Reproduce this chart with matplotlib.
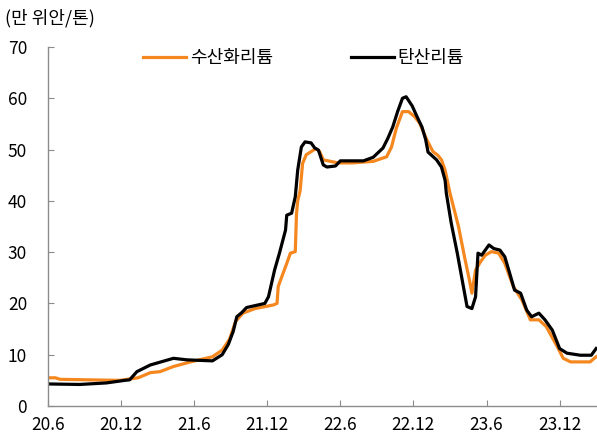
import matplotlib
matplotlib.use("Agg")
import matplotlib.pyplot as plt

plt.rcParams['font.family'] = ['Noto Sans CJK KR', 'DejaVu Sans']

# months since 2020.6
tick_pos = [0, 6, 12, 18, 24, 30, 36, 42]
tick_labels = ["20.6", "20.12", "21.6", "21.12", "22.6", "22.12", "23.6", "23.12"]

# 수산화리튬 (lithium hydroxide)
hyd_m = [0, 0.6, 1.0, 3.4, 5.9, 7.4, 8.4, 9.2, 10.3, 11.7, 13.5, 14.3, 14.9, 15.4,
         16.0, 17.0, 18.5, 18.8, 18.9, 19.1, 19.6, 19.9, 20.3, 20.4, 20.5, 20.7,
         20.9, 21.2, 21.6, 22.0, 22.3, 22.6, 23.4, 23.8, 25.0, 26.7, 27.8, 28.2,
         28.6, 29.1, 29.6, 30.1, 30.5, 31.1, 31.6, 32.0, 32.3, 32.6, 33.0, 33.7,
         34.2, 34.6, 34.8, 35.1, 35.5, 35.9, 36.4, 37.0, 37.5, 38.2, 38.9, 39.6,
         40.3, 40.9, 41.8, 42.3, 42.9, 44.5, 45.0]
hyd_v = [5.5, 5.5, 5.2, 5.1, 5.0, 5.5, 6.5, 6.7, 7.7, 8.6, 9.6, 10.9, 13.0, 16.5,
         18.1, 19.0, 19.7, 20.0, 23.3, 24.6, 27.8, 29.8, 30.1, 37.5, 40.0, 42.0,
         47.3, 49.0, 49.6, 50.2, 49.6, 48.0, 47.6, 47.4, 47.4, 47.7, 48.6, 50.5,
         54.2, 57.4, 57.4, 56.4, 55.2, 51.9, 49.6, 48.9, 48.0, 46.0, 41.5, 35.0,
         29.0, 24.5, 22.0, 26.5, 28.1, 29.4, 30.1, 29.8, 27.8, 23.3, 20.7, 16.8,
         16.8, 15.5, 11.6, 9.3, 8.6, 8.6, 9.6]

# 탄산리튬 (lithium carbonate)
carb_m = [0, 2.6, 4.8, 6.3, 6.7, 7.3, 8.4, 10.3, 11.4, 13.5, 14.3, 14.8, 15.2,
          15.5, 15.9, 16.3, 17.8, 18.1, 18.6, 19.0, 19.5, 19.6, 20.0, 20.3, 20.5,
          20.8, 21.1, 21.6, 21.9, 22.2, 22.6, 22.9, 23.6, 24.0, 25.9, 26.7, 27.5,
          27.9, 28.3, 28.7, 29.1, 29.4, 29.9, 30.3, 30.7, 31.0, 31.2, 31.9, 32.3,
          32.6, 32.7, 33.1, 33.6, 34.0, 34.4, 34.8, 35.1, 35.3, 35.6, 36.2, 36.6,
          37.1, 37.5, 37.9, 38.3, 38.8, 39.3, 39.7, 40.3, 40.8, 41.4, 42.0, 42.6,
          43.7, 44.6, 45.0]
carb_v = [4.3, 4.2, 4.5, 5.0, 5.1, 6.7, 8.0, 9.3, 9.0, 8.8, 10.0, 12.0, 14.5,
          17.4, 18.2, 19.2, 20.0, 21.3, 26.5, 29.8, 34.3, 37.2, 37.6, 40.8, 46.0,
          50.5, 51.5, 51.3, 50.3, 49.9, 47.0, 46.6, 46.8, 47.8, 47.8, 48.5, 50.3,
          52.2, 54.4, 57.4, 60.0, 60.3, 58.5, 56.4, 54.4, 52.0, 49.5, 48.0, 46.6,
          44.0, 41.5, 35.7, 29.8, 24.6, 19.4, 19.0, 21.3, 29.8, 29.4, 31.4, 30.7,
          30.4, 29.1, 25.9, 22.6, 22.0, 18.7, 17.4, 18.1, 16.8, 14.8, 11.2, 10.3,
          9.9, 9.9, 11.2]

orange = '#F5871F'
spine_c = '#8c8c8c'

fig = plt.figure(figsize=(5.97, 4.41), dpi=100)
ax = fig.add_axes([48 / 597, 1 - 406 / 441, 1 - 48 / 597, (406 - 47) / 441])

ax.plot(hyd_m, hyd_v, color=orange, linewidth=2.3, label='수산화리튬')
ax.plot(carb_m, carb_v, color='black', linewidth=2.3, label='탄산리튬')

ax.set_xlim(0, 45.07)
ax.set_ylim(0, 70)
ax.set_xticks(tick_pos)
ax.set_xticklabels(tick_labels)
ax.set_yticks(range(0, 71, 10))

for s in ['top', 'right']:
    ax.spines[s].set_visible(False)
for s in ['left', 'bottom']:
    ax.spines[s].set_color(spine_c)
    ax.spines[s].set_linewidth(1.0)

ax.tick_params(axis='both', direction='in', length=4, color=spine_c, labelsize=12.5)
ax.tick_params(axis='y', pad=15)
ax.tick_params(axis='x', pad=7)

fig.legend(loc='center left', bbox_to_anchor=(143 / 597, 1 - 58 / 441), ncol=2,
           frameon=False, fontsize=13, handlelength=2.4, handletextpad=0.2,
           columnspacing=4.3, borderpad=0, borderaxespad=0)

fig.text(5 / 597, 1 - 18 / 441, '(만 위안/톤)', fontsize=13, va='center', ha='left')

fig.savefig('out.png', dpi=100)
